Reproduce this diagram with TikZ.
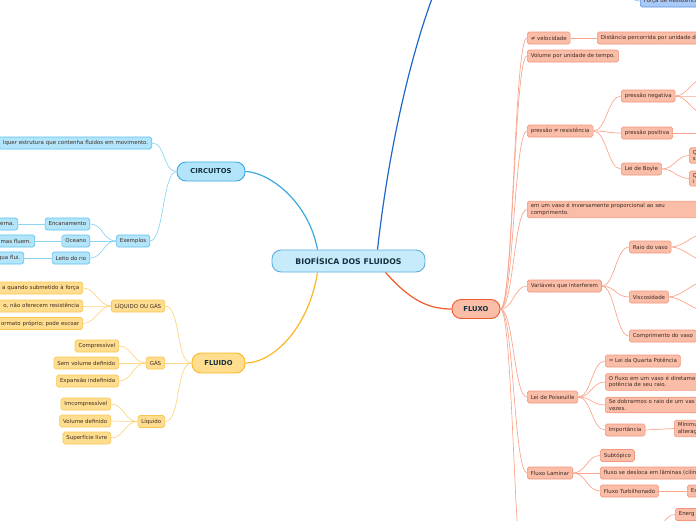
\documentclass[tikz,border=0pt]{standalone}
\usepackage{fontspec}
\setmainfont{DejaVu Sans}
\definecolor{txt}{HTML}{3E2A22}
\definecolor{txtd}{HTML}{14303C}
\definecolor{cfill}{HTML}{B3E5FA}
\definecolor{cdraw}{HTML}{5EC2EE}
\definecolor{clin}{HTML}{8ED5F4}
\definecolor{cmain}{HTML}{3AA8E2}
\definecolor{ffill}{HTML}{FEDE8E}
\definecolor{fdraw}{HTML}{F9C652}
\definecolor{flin}{HTML}{FCD682}
\definecolor{fmain}{HTML}{FBB626}
\definecolor{xfill}{HTML}{F9BDA8}
\definecolor{xdraw}{HTML}{F6957C}
\definecolor{xlin}{HTML}{F9A78E}
\definecolor{xmain}{HTML}{F05A28}
\definecolor{bfill}{HTML}{A9CAF6}
\definecolor{bdraw}{HTML}{5C8FE6}
\definecolor{bmain}{HTML}{1F68C8}
\definecolor{rfill}{HTML}{C8EBFC}
\definecolor{rdraw}{HTML}{5AAEE0}
\tikzset{
 box/.style={rounded corners=1.8pt, minimum height=12pt, inner xsep=3.5pt, inner ysep=0pt,
   font=\fontsize{5.45}{6.5}\selectfont, text=txt, line width=0.6pt},
 bc/.style={box, fill=cfill, draw=cdraw},
 bf/.style={box, fill=ffill, draw=fdraw},
 bx/.style={box, fill=xfill, draw=xdraw},
 bb/.style={box, fill=bfill, draw=bdraw},
 cutl/.style={text width=#1, align=right},
 cutr/.style={text width=#1, align=left},
 twol/.style={inner ysep=2.4pt},
 big/.style={rounded corners=9pt, line width=0.9pt, inner sep=0pt,
   font=\fontsize{6.8}{7}\selectfont\bfseries, text=txtd},
 lc/.style={draw=clin, line width=0.7pt},
 lf/.style={draw=flin, line width=0.7pt},
 lx/.style={draw=xlin, line width=0.7pt},
}
\begin{document}
\begin{tikzpicture}[x=1pt,y=-1pt]
\useasboundingbox (0,0) rectangle (696,520);
% main nodes
\node[big, fill=rfill, draw=rdraw, minimum width=153pt, minimum height=22pt,
  font=\fontsize{7.8}{8}\selectfont\bfseries] (root) at (348.5,261) {BIOFÍSICA DOS FLUIDOS};
\node[big, fill=cfill, draw=cmain, minimum width=68pt, minimum height=19pt] (circ) at (211,171.5) {CIRCUITOS};
\node[big, fill=ffill, draw=fmain, minimum width=53pt, minimum height=20pt] (flu) at (218.5,363) {FLUIDO};
\node[big, fill=xfill, draw=xmain, minimum width=48pt, minimum height=19pt] (fx) at (476,309) {FLUXO};
\coordinate (btop) at (433,-4);
% main branches
\draw[cmain, line width=1.2pt] (root.north west) ++(46,0) .. controls (308,200) and (268,172) .. (circ.east);
\draw[fmain, line width=1.2pt] (root.south west) ++(46,0) .. controls (308,330) and (272,363) .. (flu.east);
\draw[xmain, line width=1.2pt] (root.south) ++(37,0) .. controls (410,300) and (428,309) .. (fx.west);
\draw[bmain, line width=1.2pt] (root.north) ++(29,0) .. controls (392,120) and (420,30) .. (btop);

% CIRCUITOS branch
\node[bc, anchor=east, cutl=175pt] (c1) at (152,143) {lquer estrutura que contenha fluidos em movimento.};
\node[bc, anchor=east] (ex) at (150,241) {Exemplos};
\node[bc, anchor=east] (e1) at (90,224) {Encanamento};
\node[bc, anchor=east, cutl=40pt] (e1a) at (18,224) {erna.};
\node[bc, anchor=east] (e2) at (90,241) {Oceano};
\node[bc, anchor=east, cutl=50pt] (e2a) at (35,241) {mas fluem.};
\node[bc, anchor=east] (e3) at (90,258) {Leito do rio};
\node[bc, anchor=east, cutl=40pt] (e3a) at (24,258) {gua flui.};
\draw[lc] (circ.west) .. controls +(-14,0) and +(14,0) .. (c1.east);
\draw[lc] (circ.west) .. controls +(-14,0) and +(14,0) .. (ex.east);
\draw[lc] (ex.west) .. controls +(-13,0) and +(13,0) .. (e1.east);
\draw[lc] (ex.west) -- (e2.east);
\draw[lc] (ex.west) .. controls +(-13,0) and +(13,0) .. (e3.east);
\draw[lc] (e1.west) -- (e1a.east);
\draw[lc] (e2.west) -- (e2a.east);
\draw[lc] (e3.west) -- (e3a.east);

% FLUIDO branch
\node[bf, anchor=east] (lg) at (165,306) {LÍQUIDO OU GÁS};
\node[bf, anchor=east, cutl=110pt] (lg1) at (83,288) {a quando submetido à força};
\node[bf, anchor=east, cutl=110pt] (lg2) at (83,306) {o, não oferecem resistência};
\node[bf, anchor=east, cutl=110pt] (lg3) at (83,323.5) {ormato próprio; pode escoar};
\node[bf, anchor=east] (gas) at (165,363) {GÁS};
\node[bf, anchor=east] (g1) at (119,346) {Compressível};
\node[bf, anchor=east] (g2) at (119,363) {Sem volume definido};
\node[bf, anchor=east] (g3) at (119,381) {Expansão indefinida};
\node[bf, anchor=east] (liq) at (165,421.5) {Líquido};
\node[bf, anchor=east] (q1) at (111,404) {Imcompressível};
\node[bf, anchor=east] (q2) at (111,421) {Volume definido};
\node[bf, anchor=east] (q3) at (111,438) {Superfície livre};
\draw[lf] (flu.west) .. controls +(-16,0) and +(16,0) .. (lg.east);
\draw[lf] (flu.west) -- (gas.east);
\draw[lf] (flu.west) .. controls +(-16,0) and +(16,0) .. (liq.east);
\foreach \c in {lg1,lg2,lg3} \draw[lf] (lg.west) .. controls +(-12,0) and +(12,0) .. (\c.east);
\foreach \c in {g1,g2,g3} \draw[lf] (gas.west) .. controls +(-13,0) and +(13,0) .. (\c.east);
\foreach \c in {q1,q2,q3} \draw[lf] (liq.west) .. controls +(-13,0) and +(13,0) .. (\c.east);

% top blue
\node[bb, anchor=west, cutr=80pt] (fr) at (640,1) {Força de Resistência};
\coordinate (frin) at (622,-10);
\draw[draw=bfill!70!bdraw, line width=0.7pt] (frin) .. controls (630,-8) and (630,1) .. (fr.west);

% FLUXO branch
\node[bx, anchor=west] (v) at (527,38) {≠ velocidade};
\node[bx, anchor=west, cutr=130pt] (v1) at (597,38) {Distância percorrida por unidade d};
\node[bx, anchor=west] (vol) at (527,56) {Volume por unidade de tempo.};
\node[bx, anchor=west] (pr) at (527,131) {pressão ≠ resistência};
\node[bx, anchor=west] (pn) at (621,96) {pressão negativa};
\node[bx, anchor=west] (pp) at (621,133) {pressão positiva};
\node[bx, anchor=west] (lb) at (621,169) {Lei de Boyle};
\node[bx, anchor=west, twol, cutr=20pt] (lb1) at (689,155.5) {Q\\s};
\node[bx, anchor=west, twol, cutr=20pt] (lb2) at (689,178.5) {Q\\i};
\node[bx, anchor=west, twol, cutr=190pt] (inv) at (527,209.5) {em um vaso é inversamente proporcional ao seu\\comprimento.};
\node[bx, anchor=west] (var) at (527,286) {Variáveis que interferem};
\node[bx, anchor=west] (rv) at (629,247) {Raio do vaso};
\node[bx, anchor=west] (vs) at (629,297) {Viscosidade};
\node[bx, anchor=west] (cv) at (629,336) {Comprimento do vaso};
\node[bx, anchor=west] (lp) at (527,397) {Lei de Poiseuille};
\node[bx, anchor=west] (lp1) at (605,361) {= Lei da Quarta Potência};
\node[bx, anchor=west, twol, cutr=110pt] (lp2) at (605,382) {O fluxo em um vaso é diretame\\potência de seu raio.};
\node[bx, anchor=west, twol, cutr=110pt] (lp3) at (605,405) {Se dobrarmos o raio de um vas\\vezes.};
\node[bx, anchor=west] (imp) at (605,430) {Importância};
\node[bx, anchor=west, twol, cutr=40pt] (imp1) at (674,428.5) {Mínimu\\alteraç};
\node[bx, anchor=west] (fl) at (527,473) {Fluxo Laminar};
\node[bx, anchor=west] (fl1) at (600,455.5) {Subtópico};
\node[bx, anchor=west, cutr=120pt] (fl2) at (600,473) {fluxo se desloca em lâminas (cilin};
\node[bx, anchor=west] (ft) at (600,491) {Fluxo Turbilhonado};
\node[bx, anchor=west, cutr=30pt] (ft1) at (687,491) {Es};
\node[bx, anchor=west, cutr=40pt] (en) at (675,514.5) {Energ};
\coordinate (fxlow) at (527,600);
\coordinate (enin) at (655,535);
\foreach \c in {v,vol,pr,inv,var,lp,fl,fxlow}
  \draw[lx] (fx.east) .. controls +(13,0) and +(-13,0) .. (\c.west);
\draw[lx] (en.west) .. controls +(-10,0) and +(5,-5) .. (enin);
\draw[lx] (v.east) -- (v1.west);
\foreach \c in {pn,pp,lb} \draw[lx] (pr.east) .. controls +(13,0) and +(-13,0) .. (\c.west);
\coordinate (pna) at (705,78); \coordinate (pnb) at (705,96); \coordinate (pnc) at (705,114);
\foreach \c in {pna,pnb,pnc} \draw[lx] (pn.east) .. controls +(12,0) and +(-12,0) .. (\c);
\coordinate (ppa) at (705,133);
\draw[lx] (pp.east) -- (ppa);
\foreach \c in {lb1,lb2} \draw[lx] (lb.east) .. controls +(12,0) and +(-12,0) .. (\c.west);
\foreach \c in {rv,vs,cv} \draw[lx] (var.east) .. controls +(13,0) and +(-13,0) .. (\c.west);
\coordinate (rva) at (708,232); \coordinate (rvb) at (708,262);
\foreach \c in {rva,rvb} \draw[lx] (rv.east) .. controls +(12,0) and +(-12,0) .. (\c);
\coordinate (vsa) at (708,280); \coordinate (vsb) at (708,312);
\foreach \c in {vsa,vsb} \draw[lx] (vs.east) .. controls +(12,0) and +(-12,0) .. (\c);
\foreach \c in {lp1,lp2,lp3,imp} \draw[lx] (lp.east) .. controls +(13,0) and +(-13,0) .. (\c.west);
\draw[lx] (imp.east) -- (imp1.west);
\foreach \c in {fl1,fl2,ft} \draw[lx] (fl.east) .. controls +(13,0) and +(-13,0) .. (\c.west);
\draw[lx] (ft.east) -- (ft1.west);
\end{tikzpicture}
\end{document}
